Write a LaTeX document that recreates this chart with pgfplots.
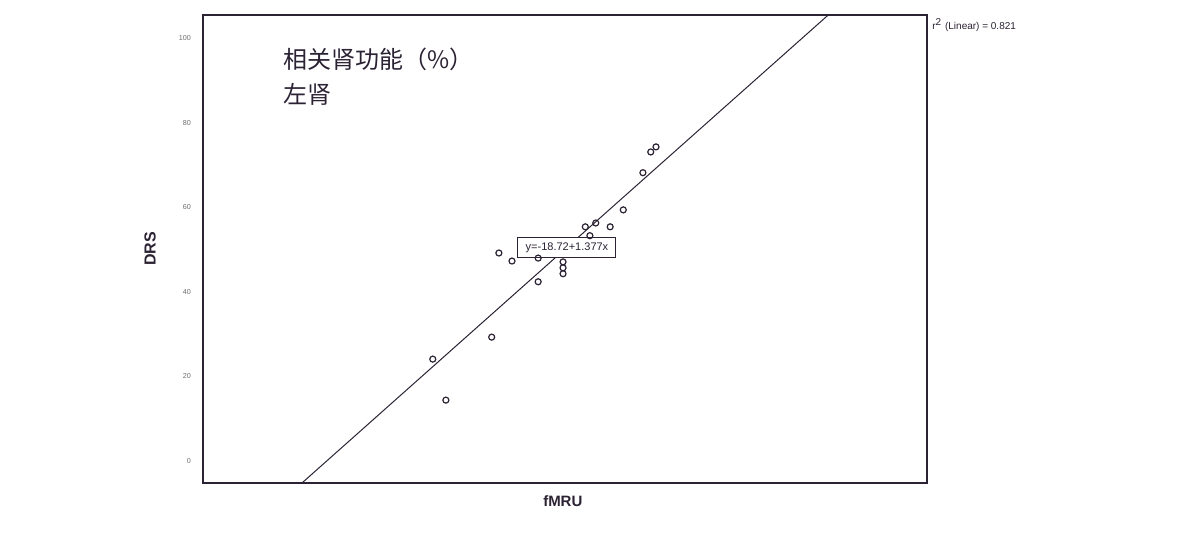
\documentclass[border=0pt]{standalone}
\usepackage{fontspec}
\setmainfont{Liberation Sans}
\newfontfamily\cjk{Noto Sans CJK SC}
\usepackage{pgfplots}
\pgfplotsset{compat=1.18}
\definecolor{ink}{HTML}{2B2233}
\definecolor{tickgrey}{HTML}{6E6E6E}

\begin{document}
\begin{tikzpicture}
% page is 1198 x 540 px, 1 px = 0.5pt
\useasboundingbox (0,0) rectangle (599pt,270pt);
\begin{axis}[
  at={(101.5pt,28.5pt)}, anchor=south west,
  scale only axis, width=362pt, height=234pt,
  xmin=-5.3, xmax=105.3, ymin=-5.2, ymax=105.5,
  xtick=\empty, ytick={0,20,...,100},
  tick style={draw=none},
  axis line style={ink, line width=0.8pt},
  /pgf/number format/assume math mode=true,
  yticklabel style={font=\fontsize{3.6}{4}\selectfont, text=tickgrey, xshift=-2.5pt},
  xlabel={fMRU}, ylabel={DRS},
  xlabel style={at={(axis description cs:0.497,0)}, anchor=center, yshift=-9pt,
    font=\bfseries\fontsize{7.5}{8}\selectfont, text=ink},
  ylabel style={at={(axis description cs:-0.073,0.5)}, anchor=center,
    font=\bfseries\fontsize{8}{9}\selectfont, text=ink},
  clip=true
]
\addplot[ink, line width=0.5pt] coordinates {(0,-18.72) (100,118.98)};
\addplot[only marks, mark=o, mark size=1.5pt, ink, mark options={line width=0.6pt}]
  coordinates {
  (29.8,24.1) (31.8,14.4) (38.8,29.3) (39.9,49.2) (41.9,47.3)
  (45.9,48.0) (45.9,42.4) (49.7,47.1) (49.7,45.7) (49.7,44.3)
  (53.1,55.4) (53.8,53.3) (54.7,56.3) (56.9,55.4) (58.9,59.4)
  (61.9,68.2) (63.1,73.1) (63.9,74.3)
  };
\node[draw=ink, fill=white, line width=0.5pt, text=ink,
  font=\fontsize{5.5}{6}\selectfont, minimum width=49pt, minimum height=10pt,
  inner sep=1pt] at (axis cs:50.3,50.5) {y=-18.72+1.377x};
\end{axis}
\node[anchor=west, inner sep=0, text=ink, font=\fontsize{5}{6}\selectfont]
  at (466pt,257.5pt) {r\textsuperscript{2} (Linear) = 0.821};
\node[anchor=north west, inner sep=0, align=left, text=ink,
  font=\cjk\fontsize{12}{17.5}\selectfont]
  at (141.5pt,246pt) {相关肾功能（\%）\\左肾};
\end{tikzpicture}
\end{document}
